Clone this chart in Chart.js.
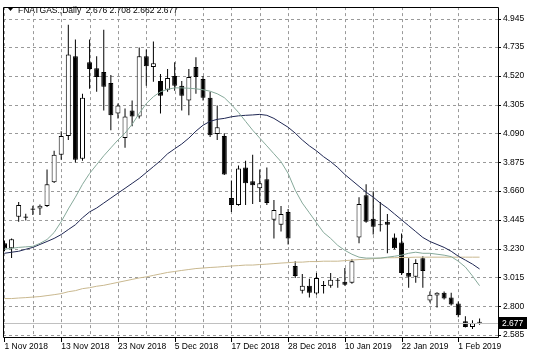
<!DOCTYPE html>
<html>
<head>
<meta charset="utf-8">
<script src="https://cdn.jsdelivr.net/npm/chart.js@4.4.1/dist/chart.umd.min.js"></script>
<style>
html,body{margin:0;padding:0;background:#fff;}
canvas{display:block;}
</style>
</head>
<body>
<canvas id="c" width="536" height="358"></canvas>
<script>
// ---- data ----
const symbolTitle = "FNATGAS.,Daily";
const categories = ["1 Nov 2018","2 Nov 2018","5 Nov 2018","6 Nov 2018","7 Nov 2018","8 Nov 2018","9 Nov 2018","12 Nov 2018",
"13 Nov 2018","14 Nov 2018","15 Nov 2018","16 Nov 2018","19 Nov 2018","20 Nov 2018","21 Nov 2018","22 Nov 2018",
"23 Nov 2018","26 Nov 2018","27 Nov 2018","28 Nov 2018","29 Nov 2018","30 Nov 2018","3 Dec 2018","4 Dec 2018",
"5 Dec 2018","6 Dec 2018","7 Dec 2018","10 Dec 2018","11 Dec 2018","12 Dec 2018","13 Dec 2018","14 Dec 2018",
"17 Dec 2018","18 Dec 2018","19 Dec 2018","20 Dec 2018","21 Dec 2018","24 Dec 2018","26 Dec 2018","27 Dec 2018",
"28 Dec 2018","31 Dec 2018","2 Jan 2019","3 Jan 2019","4 Jan 2019","7 Jan 2019","8 Jan 2019","9 Jan 2019",
"10 Jan 2019","11 Jan 2019","14 Jan 2019","15 Jan 2019","16 Jan 2019","17 Jan 2019","18 Jan 2019","21 Jan 2019",
"22 Jan 2019","23 Jan 2019","24 Jan 2019","25 Jan 2019","28 Jan 2019","29 Jan 2019","30 Jan 2019","31 Jan 2019",
"1 Feb 2019","4 Feb 2019","5 Feb 2019","6 Feb 2019"];

const openV = [3.27,3.232,3.467,3.47,3.53,3.53,3.548,3.725,3.93,4.07,4.666,3.901,4.622,4.577,4.548,4.467,
4.239,4.055,4.261,4.217,4.666,4.585,4.482,4.416,4.519,4.445,4.335,4.585,4.497,4.357,4.085,4.07,
3.607,3.556,3.835,3.732,3.681,3.747,3.445,3.408,3.504,3.1,2.916,2.953,2.894,2.955,2.953,2.997,
2.982,2.975,3.313,3.629,3.453,3.41,3.43,3.313,3.276,3.048,3.019,3.158,2.842,2.879,2.901,2.864,
2.82,2.688,2.644,2.676];
const highV = [3.29,3.306,3.578,3.49,3.55,3.56,3.82,3.96,4.107,4.901,4.791,4.386,4.791,4.666,4.864,4.526,
4.313,4.276,4.335,4.732,4.717,4.776,4.533,4.57,4.622,4.482,4.57,4.658,4.519,4.401,4.298,4.092,
3.739,3.85,3.886,3.93,3.82,3.835,3.592,3.548,3.526,3.136,3.041,3.004,3.048,2.989,3.048,3.011,
3.085,3.151,3.614,3.71,3.658,3.578,3.489,3.342,3.342,3.158,3.151,3.173,2.909,2.905,2.909,2.901,
2.835,2.725,2.695,2.708];
const lowV = [3.21,3.159,3.431,3.44,3.48,3.48,3.54,3.72,3.894,4.041,3.872,3.886,4.423,4.401,4.261,4.114,
4.202,3.982,4.144,4.202,4.445,4.475,4.239,4.401,4.408,4.261,4.225,4.386,4.335,4.063,4.041,3.78,
3.504,3.55,3.556,3.563,3.578,3.556,3.306,3.357,3.261,3.011,2.894,2.864,2.886,2.894,2.938,2.938,
2.953,2.967,3.269,3.423,3.335,3.357,3.195,3.225,3.033,2.938,2.975,2.938,2.828,2.791,2.85,2.806,
2.717,2.64,2.629,2.662];
const closeV = [3.23,3.299,3.556,3.46,3.52,3.55,3.71,3.93,4.07,4.68,3.894,4.357,4.57,4.511,4.438,4.225,
4.298,4.217,4.217,4.666,4.592,4.614,4.372,4.504,4.445,4.372,4.511,4.511,4.357,4.077,4.136,3.783,
3.556,3.828,3.717,3.703,3.717,3.57,3.519,3.489,3.306,3.026,2.953,2.901,3.011,2.95,2.997,2.99,
2.96,3.136,3.563,3.43,3.394,3.405,3.408,3.232,3.048,3.019,3.122,3.063,2.886,2.901,2.857,2.813,
2.732,2.644,2.673,2.677];

const maFast = [3.225,3.232,3.239,3.243,3.247,3.269,3.298,3.350,3.431,3.526,
3.614,3.710,3.791,3.857,3.923,3.982,4.041,4.092,4.158,4.239,
4.313,4.364,4.401,4.419,4.430,4.430,4.427,4.423,4.416,4.405,
4.386,4.357,4.305,4.247,4.180,4.114,4.055,3.997,3.938,3.879,
3.791,3.666,3.570,3.497,3.423,3.350,3.306,3.254,3.217,3.188,
3.166,3.159,3.159,3.159,3.166,3.173,3.181,3.195,3.203,3.195,
3.195,3.188,3.181,3.170,3.136,3.092,3.026,2.953];
const maMid = [3.195,3.203,3.210,3.225,3.239,3.261,3.283,3.306,3.335,3.372,
3.408,3.460,3.504,3.533,3.570,3.607,3.644,3.680,3.717,3.754,
3.798,3.842,3.886,3.938,3.975,4.011,4.055,4.107,4.151,4.180,
4.195,4.202,4.214,4.221,4.225,4.228,4.232,4.225,4.202,4.169,
4.136,4.092,4.041,3.997,3.960,3.916,3.879,3.835,3.783,3.739,
3.695,3.651,3.614,3.570,3.533,3.489,3.445,3.401,3.357,3.313,
3.283,3.261,3.239,3.210,3.173,3.144,3.114,3.078];
const maSlow = [2.857,2.857,2.861,2.864,2.868,2.872,2.879,2.886,2.894,2.908,
2.916,2.931,2.938,2.949,2.956,2.967,2.978,2.989,3.000,3.011,
3.019,3.030,3.041,3.052,3.059,3.067,3.074,3.081,3.085,3.089,
3.092,3.096,3.100,3.103,3.107,3.107,3.111,3.114,3.118,3.122,
3.125,3.129,3.129,3.133,3.133,3.136,3.136,3.136,3.140,3.144,
3.148,3.151,3.155,3.159,3.162,3.162,3.164,3.164,3.166,3.166,
3.166,3.166,3.166,3.166,3.166,3.166,3.166,3.166];

const yTickLabels = [4.945,4.735,4.520,4.305,4.090,3.875,3.660,3.445,3.230,3.015,2.800,2.585];
const quote = [2.676, 2.708, 2.662, 2.677];

// ---- build datasets ----
const idx = categories.map((_, i) => i);
const wickData = idx.map(i => ({x: i, y: [lowV[i], highV[i]]}));
const bodyData = idx.map(i => ({x: i, y: [Math.min(openV[i], closeV[i]), Math.max(openV[i], closeV[i])]}));
const bodyFill = idx.map(i => closeV[i] >= openV[i] ? '#ffffff' : '#000000');
const line = arr => arr.map((v, i) => ({x: i, y: v}));

const FONT = "'Liberation Sans', Arial, sans-serif";
Chart.defaults.font.family = FONT;
Chart.defaults.font.size = 8.5;
Chart.defaults.color = '#000';
const GRID = '#9a9a9a';

function drawGridLines(chart) {
  const {ctx, chartArea: a, scales: {x, y}} = chart;
  if (!a || !x || !y) return;
  ctx.save();
  ctx.lineWidth = 1;
  ctx.strokeStyle = GRID;
  ctx.setLineDash([3, 3]);
  ctx.beginPath();
  idx.filter(i => i % 4 === 0).forEach(v => {
    const px = Math.round(x.getPixelForValue(v)) + 0.5;
    if (px <= a.left + 1 || px >= a.right - 1) return;
    ctx.moveTo(px, a.top);
    ctx.lineTo(px, a.bottom);
  });
  yTickLabels.forEach(v => {
    const py = Math.round(y.getPixelForValue(v)) + 0.5;
    ctx.moveTo(a.left, py);
    ctx.lineTo(a.right, py);
  });
  ctx.stroke();
  ctx.setLineDash([]);
  ctx.strokeStyle = '#000';
  ctx.beginPath();
  idx.filter(i => i % 8 === 0).forEach(v => {
    const px = Math.round(x.getPixelForValue(v)) + 0.5;
    ctx.moveTo(px, a.bottom);
    ctx.lineTo(px, a.bottom + 5);
  });
  yTickLabels.forEach(v => {
    const py = Math.round(y.getPixelForValue(v)) + 0.5;
    ctx.moveTo(a.right, py);
    ctx.lineTo(a.right + 3, py);
  });
  ctx.stroke();
  ctx.restore();
}

const gridPlugin = {
  id: 'mtgrid',
  beforeDraw(chart) { drawGridLines(chart); },
  afterDraw(chart) {
    const {ctx, chartArea: a, scales} = chart;
    ctx.save();
    ctx.lineWidth = 1;
    ctx.setLineDash([]);
    // bid line
    const last = closeV[closeV.length - 1];
    const py = Math.round(scales.y.getPixelForValue(last)) + 0.5;
    ctx.strokeStyle = '#c0c0c0';
    ctx.beginPath();
    ctx.moveTo(a.left, py);
    ctx.lineTo(a.right, py);
    ctx.stroke();
    // frame
    ctx.strokeStyle = '#000';
    const L = Math.round(a.left) + 0.5, T = Math.round(a.top) + 0.5;
    const R = Math.round(a.right) + 0.5, B = Math.round(a.bottom) + 0.5;
    ctx.beginPath();
    ctx.moveTo(L, B); ctx.lineTo(L, T); ctx.lineTo(R, T); ctx.lineTo(R, B); ctx.lineTo(L, B);
    ctx.stroke();
    // price box
    ctx.fillStyle = '#000';
    ctx.fillRect(a.right, py - 6.5, 29, 12);
    ctx.fillStyle = '#fff';
    ctx.font = '8.5px ' + FONT;
    ctx.textBaseline = 'middle';
    ctx.textAlign = 'left';
    ctx.fillText(last.toFixed(3), a.right + 4, py);
    // title
    ctx.fillStyle = '#000';
    ctx.beginPath();
    ctx.moveTo(a.left + 5, 8);
    ctx.lineTo(a.left + 10, 8);
    ctx.lineTo(a.left + 7.5, 11);
    ctx.closePath();
    ctx.fill();
    ctx.font = '8.5px ' + FONT;
    ctx.fillText(symbolTitle + '  ' + quote.map(v => v.toFixed(3)).join(' '), a.left + 15, 10.5);
    ctx.restore();
  }
};

new Chart(document.getElementById('c'), {
  type: 'bar',
  data: {
    datasets: [
      {type: 'line', data: line(maFast), borderColor: '#86a99a', borderWidth: 1, pointRadius: 0, tension: 0, fill: false, order: 0},
      {type: 'line', data: line(maMid), borderColor: '#1f2753', borderWidth: 1, pointRadius: 0, tension: 0, fill: false, order: 0},
      {type: 'line', data: line(maSlow), borderColor: '#c9b88f', borderWidth: 1, pointRadius: 0, tension: 0, fill: false, order: 0},
      {type: 'bar', data: bodyData, backgroundColor: bodyFill, borderColor: '#000', borderWidth: 1,
       borderSkipped: false, barThickness: 5, grouped: false, minBarLength: 1, inflateAmount: 0, order: 1},
      {type: 'bar', data: wickData, backgroundColor: '#000', borderWidth: 0,
       barThickness: 1, grouped: false, inflateAmount: 0, order: 2}
    ]
  },
  options: {
    responsive: false,
    animation: false,
    devicePixelRatio: 1,
    layout: {padding: {left: 3, top: 2, right: 0, bottom: 0}},
    plugins: {legend: {display: false}, tooltip: {enabled: false}, title: {display: false}},
    scales: {
      x: {
        type: 'linear',
        offset: false,
        min: -0.21,
        max: 69.6,
        afterBuildTicks: s => { s.ticks = idx.filter(i => i % 4 === 0).map(v => ({value: v})); },
        afterFit: s => { s.height = 21; },
        ticks: {
          autoSkip: false, maxRotation: 0, minRotation: 0, align: 'start', padding: 1,
          callback: v => (v % 8 === 0 ? categories[v] : '')
        },
        grid: {display: true, drawOnChartArea: false, offset: false, color: 'rgba(0,0,0,0)', tickLength: 4, tickColor: 'rgba(0,0,0,0)'},
        border: {display: false}
      },
      y: {
        type: 'linear',
        position: 'right',
        min: 2.570,
        max: 5.033,
        afterBuildTicks: s => { s.ticks = yTickLabels.map(v => ({value: v})); },
        afterFit: s => { s.width = 38; },
        ticks: {padding: 2, callback: v => Number(v).toFixed(3)},
        grid: {display: true, drawOnChartArea: false, color: 'rgba(0,0,0,0)', tickLength: 3, tickColor: 'rgba(0,0,0,0)'},
        border: {display: false}
      }
    }
  },
  plugins: [gridPlugin]
});
</script>
</body>
</html>
